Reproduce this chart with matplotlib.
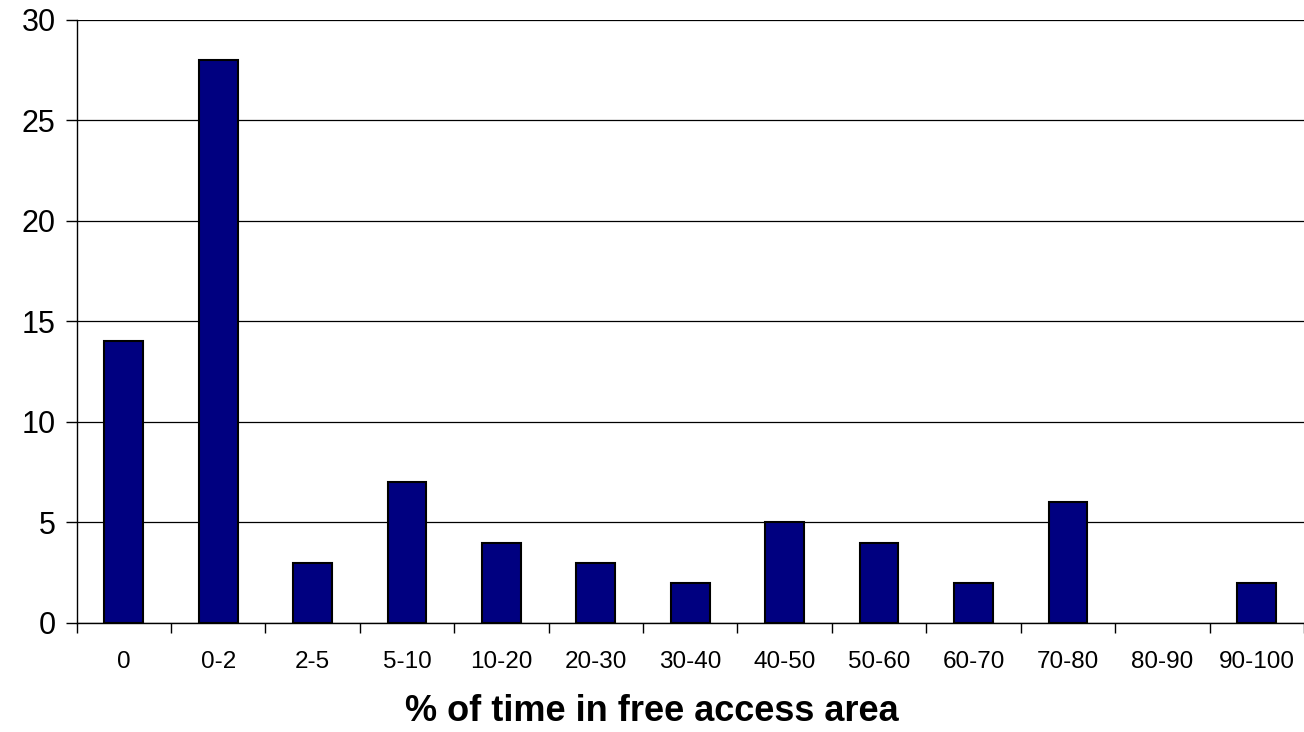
import matplotlib.pyplot as plt

plt.rcParams['font.family'] = ['Liberation Sans', 'DejaVu Sans']

# categories and counts
categories = ["0", "0-2", "2-5", "5-10", "10-20", "20-30", "30-40",
              "40-50", "50-60", "60-70", "70-80", "80-90", "90-100"]
counts = [14, 28, 3, 7, 4, 3, 2, 5, 4, 2, 6, 0, 2]
y_ticks = [0, 5, 10, 15, 20, 25, 30]

fig = plt.figure(figsize=(13.04, 7.32), dpi=100)
ax = fig.add_axes([0.0587, 0.149, 0.9413, 0.824])

x = list(range(len(categories)))
# empty categories get no bar outline
xs = [i for i, c in zip(x, counts) if c > 0]
hs = [c for c in counts if c > 0]
ax.bar(xs, hs, width=0.41, color="#000080", edgecolor="black",
       linewidth=1.5, zorder=3)

# axes limits
ax.set_xlim(-0.5, len(categories) - 0.5)
ax.set_ylim(0, 30)

# horizontal gridlines
ax.set_yticks(y_ticks)
ax.yaxis.grid(True, color="black", linewidth=0.9, zorder=0)
ax.set_axisbelow(True)

# category ticks between bars
ax.set_xticks([i - 0.5 for i in range(len(categories) + 1)], minor=False)
ax.set_xticklabels([])
ax.set_xticks(x, minor=True)
ax.set_xticklabels(categories, minor=True, fontsize=17.5)
ax.tick_params(axis="x", which="minor", length=0, pad=20)
ax.tick_params(axis="x", which="major", length=7, width=1, direction="out")
ax.tick_params(axis="y", length=8, width=1, direction="out", labelsize=22, pad=7)

for side in ["top", "right"]:
    ax.spines[side].set_visible(False)
ax.spines["left"].set_linewidth(1)
ax.spines["bottom"].set_linewidth(1)

ax.set_xlabel("% of time in free access area", fontsize=26, fontweight="bold")
# centred on the figure rather than the plot area
ax.xaxis.set_label_coords(0.469, -0.117)

fig.savefig("out.png", dpi=100)
plt.close(fig)
